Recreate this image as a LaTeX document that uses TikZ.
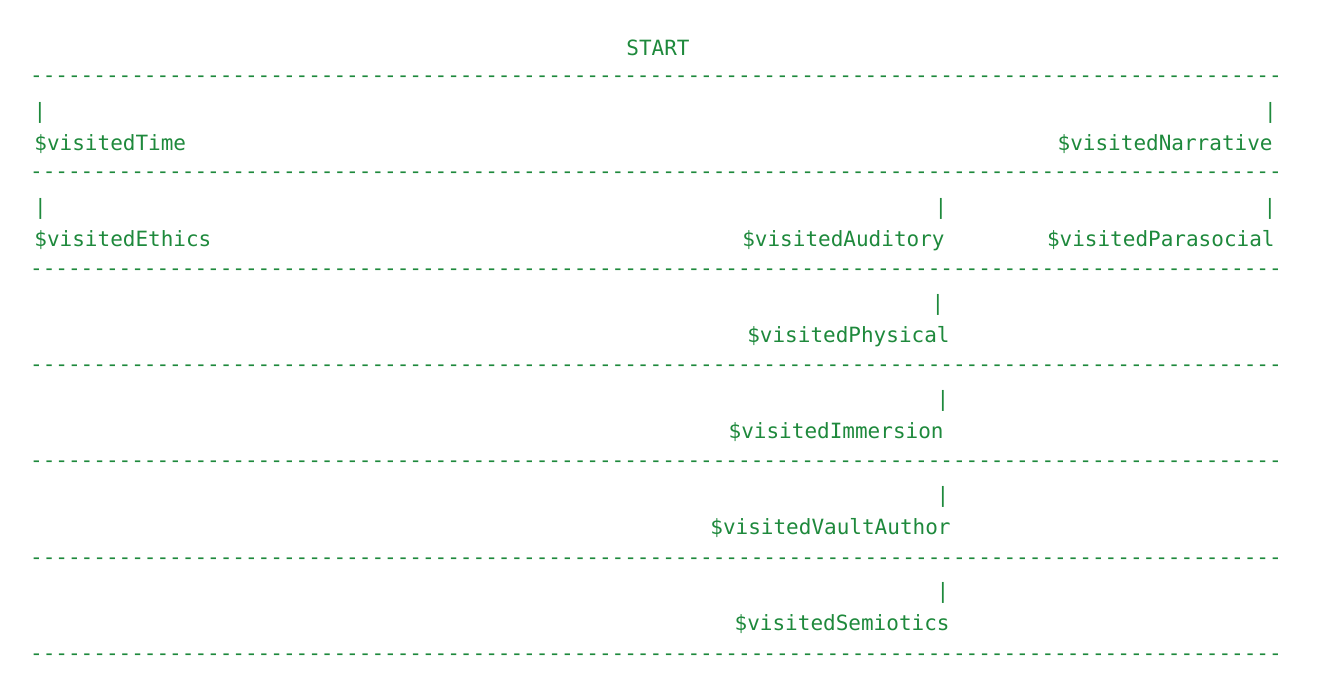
\documentclass[tikz,border=0pt]{standalone}
\usepackage{fontspec}
\setmonofont{DejaVu Sans Mono}
\usepackage{tikz}
\usetikzlibrary{positioning}
\definecolor{termgreen}{RGB}{30,137,60}
\tikzset{
  txt/.style={inner sep=0pt, font=\ttfamily\fontsize{10.5}{12}\selectfont, text=termgreen},
  lbl/.style={txt, anchor=mid west},
  rlbl/.style={txt, anchor=mid east},
  bar/.style={txt},
  rule/.style={txt}
}
\newcommand{\dashrow}{\foreach \k in {1,...,99}{-}}

\begin{document}
\begin{tikzpicture}[x=0.5pt, y=-0.5pt]
    \useasboundingbox (0,0) rectangle (1317,698);
    \node[txt] (start) at (658,48) {START};
    % separator rows
    \node[rule] (ruleA) at (656,79) {\dashrow};
    \node[rule] (ruleB) at (656,175.5) {\dashrow};
    \node[rule] (ruleC) at (656,272) {\dashrow};
    \node[rule] (ruleD) at (656,368) {\dashrow};
    \node[rule] (ruleE) at (656,464) {\dashrow};
    \node[rule] (ruleF) at (656,561) {\dashrow};
    \node[rule] (ruleG) at (656,657) {\dashrow};
    % first row
    \node[bar] (timebar) at (40,113) {|};
    \node[lbl] (time) at (34,146) {\$visitedTime};
    \node[bar] (narrbar) at (1270.5,113) {|};
    \node[rlbl] (narrative) at (1273,146) {\$visitedNarrative};
    % second row
    \node[bar] (ethicsbar) at (40.5,209) {|};
    \node[lbl] (ethics) at (34,242) {\$visitedEthics};
    \node[bar] (audbar) at (941,209) {|};
    \node[rlbl] (auditory) at (945,242) {\$visitedAuditory};
    \node[bar] (parabar) at (1270,209) {|};
    \node[rlbl] (parasocial) at (1275,242) {\$visitedParasocial};
    % chain below
    \node[bar] (physbar) at (938,305) {|};
    \node[rlbl] (physical) at (950,338) {\$visitedPhysical};
    \node[bar] (immbar) at (943,401) {|};
    \node[rlbl] (immersion) at (944,434) {\$visitedImmersion};
    \node[bar] (vaultbar) at (943,497) {|};
    \node[rlbl] (vault) at (951,530) {\$visitedVaultAuthor};
    \node[bar] (semiobar) at (943,593) {|};
    \node[rlbl] (semiotics) at (950,626) {\$visitedSemiotics};
\end{tikzpicture}
\end{document}
